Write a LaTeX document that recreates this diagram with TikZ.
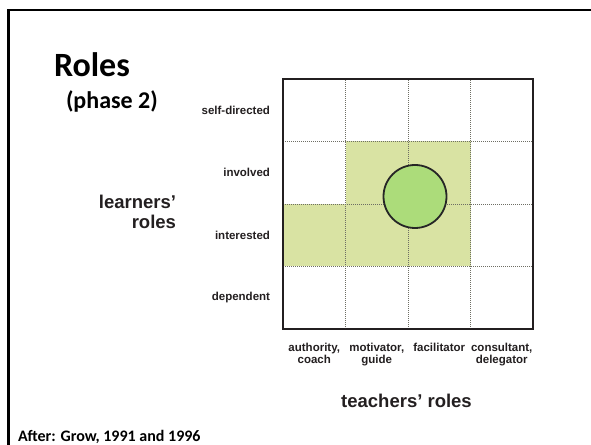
\documentclass[tikz,border=0pt]{standalone}
\usepackage{fontspec}
\newfontfamily\calibrifont{Carlito}
\newfontfamily\arialfont{Liberation Sans}
\begin{document}
\begin{tikzpicture}[x=1pt,y=1pt,
  rowlabel/.style={text=textColor,anchor=east,inner sep=0pt,outer sep=0pt,font=\arialfont\bfseries\fontsize{11.5}{11.5}\selectfont},
  collabel/.style={text=textColor,anchor=base,align=center,inner sep=0pt,outer sep=0pt,font=\arialfont\bfseries\fontsize{11.5}{11.6}\selectfont},
  axislabel/.style={text=textColor,inner sep=0pt,outer sep=0pt,font=\arialfont\bfseries\fontsize{18.5}{20}\selectfont},
  gridline/.style={draw=gridColor,line width=0.8pt,dash pattern=on 1pt off 1pt}]
\definecolor{fillColor}{RGB}{255,255,255}
\definecolor{drawColor}{RGB}{0,0,0}
\definecolor{textColor}{RGB}{35,31,32}
\definecolor{gridColor}{RGB}{110,110,100}
\definecolor{cellColor}{RGB}{217,227,163}
\definecolor{dotColor}{RGB}{172,220,122}
\path[use as bounding box,fill=fillColor] (0,0) rectangle (591,444);
\begin{scope}
\path[clip] (0,0) rectangle (591,444);

\path[draw=drawColor,line width=2.5pt] (8.5,-10) -- (8.5,434) -- (601,434);
\end{scope}
\begin{scope}
\path[clip] (283,115) rectangle (533,365);

\path[fill=cellColor] (345.5,240.0) rectangle (470.5,302.5);

\path[fill=cellColor] (283.0,177.5) rectangle (470.5,240.0);

\path[gridline] (345.5,115) -- (345.5,365);

\path[gridline] (408.0,115) -- (408.0,365);

\path[gridline] (470.5,115) -- (470.5,365);

\path[gridline] (283,177.5) -- (533,177.5);

\path[gridline] (283,240.0) -- (533,240.0);

\path[gridline] (283,302.5) -- (533,302.5);

\node[circle,fill=dotColor,draw=drawColor!85,line width=1.8pt,minimum size=63pt,inner sep=0pt] (focus) at (415,247.5) {};
\end{scope}

\path[draw=textColor,line width=1.5pt] (283,115) rectangle (533,365);

\node[text=drawColor,anchor=base west,inner sep=0pt,outer sep=0pt,font=\calibrifont\bfseries\fontsize{34}{34}\selectfont] (title) at (54,367) {Roles};

\node[text=drawColor,anchor=base west,inner sep=0pt,outer sep=0pt,font=\calibrifont\bfseries\fontsize{24}{24}\selectfont] (phase) at (66,335.5) {(phase 2)};

\node[rowlabel] (selfdir) at (270,333.75) {self-directed};

\node[rowlabel] (involved) at (270,271.25) {involved};

\node[rowlabel] (interested) at (270,208.75) {interested};

\node[rowlabel] (dependent) at (270,146.25) {dependent};

\node[axislabel,anchor=base east,align=right] (learners) at (176,215.7) {learners’\\roles};

\node[collabel] (authority) at (314.25,80.7) {authority,\\coach};

\node[collabel] (motivator) at (376.75,80.7) {motivator,\\guide};

\node[collabel] (facilitator) at (439.25,92.3) {facilitator};

\node[collabel] (consultant) at (501.75,80.7) {consultant,\\delegator};

\node[axislabel,anchor=base] (teachers) at (406.5,36.3) {teachers’ roles};

\node[text=drawColor,anchor=base west,inner sep=0pt,outer sep=0pt,font=\calibrifont\bfseries\fontsize{16}{16}\selectfont] (source) at (18,3) {After: Grow, 1991 and 1996};
\end{tikzpicture}
\end{document}
